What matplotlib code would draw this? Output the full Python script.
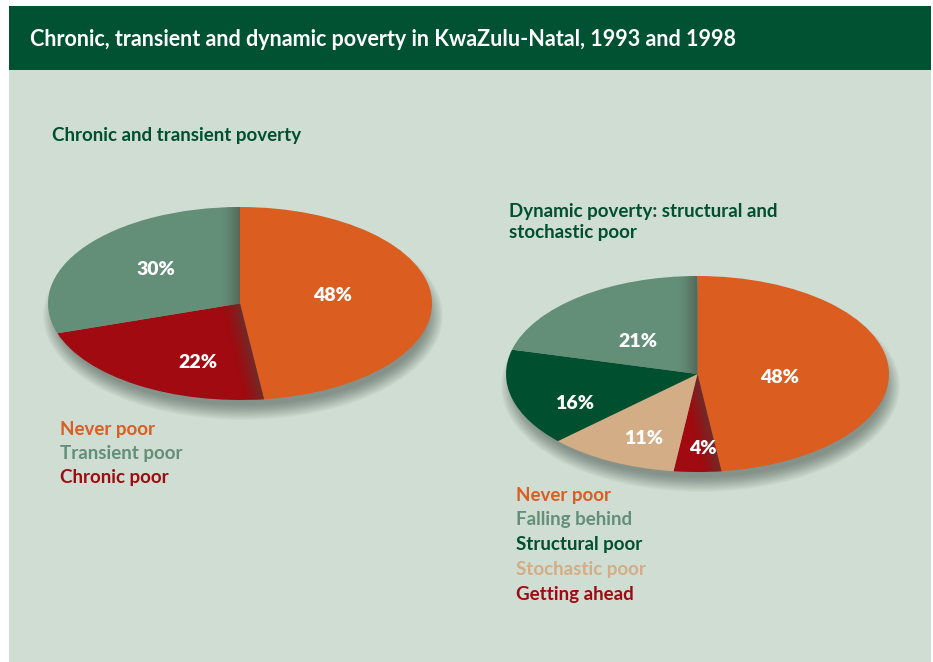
import numpy as np
import matplotlib.pyplot as plt
from matplotlib.patches import Rectangle, Ellipse

# data
title = "Chronic, transient and dynamic poverty in KwaZulu-Natal, 1993 and 1998"

left_title = "Chronic and transient poverty"
left_labels = ["Never poor", "Transient poor", "Chronic poor"]
left_values = [48, 30, 22]
left_order = [0, 2, 1]  # drawing order clockwise from the top

right_title = "Dynamic poverty: structural and\nstochastic poor"
right_labels = ["Never poor", "Falling behind", "Structural poor", "Stochastic poor", "Getting ahead"]
right_values = [48, 21, 16, 11, 4]
right_order = [0, 4, 3, 2, 1]

left_colors = ["#dc5d20", "#638e78", "#a00a10"]
right_colors = ["#dc5d20", "#638e78", "#00502f", "#d2ad85", "#a00a10"]

BG = "#d0ddd3"
DARK = "#00502f"
W, H = 933, 662

plt.rcParams['font.family'] = ['Lato', 'DejaVu Sans']

fig = plt.figure(figsize=(W / 100, H / 100), dpi=100)
fig.patch.set_facecolor("white")


def fx(px):
    return px / W


def fy(py):
    return 1 - py / H


# panel + header band
fig.patches.append(Rectangle((fx(9), 0), fx(922), fy(70), transform=fig.transFigure,
                             facecolor=BG, edgecolor="none", zorder=-5))
fig.patches.append(Rectangle((fx(9), fy(70)), fx(922), (70 - 6) / H, transform=fig.transFigure,
                             facecolor="#005232", edgecolor="none", zorder=-5))
fig.text(fx(30), fy(40), title, color="white", fontsize=15.5, fontweight="bold",
         va="center", ha="left")


def shade(ax, wedge, theta, pxw, pxh, width=20):
    # dark gradient along a wedge border, clipped to the neighbouring wedge
    xs = np.linspace(-1, 1, 300)
    ys = np.linspace(-1, 1, 300)
    X, Y = np.meshgrid(xs, ys)
    dx, dy = np.sin(np.radians(theta)) * pxw / 2, np.cos(np.radians(theta)) * pxh / 2
    n = np.hypot(dx, dy)
    d = np.abs(X * pxw / 2 * dy - Y * pxh / 2 * dx) / n
    a = np.clip(1 - d / width, 0, 1) ** 1.5 * 0.55
    img = np.zeros((300, 300, 4))
    img[..., 0] = 0.28
    img[..., 1] = 0.28
    img[..., 2] = 0.24
    img[..., 3] = a
    im = ax.imshow(img, extent=(-1, 1, -1, 1), origin="lower", aspect="auto", zorder=3,
                   interpolation="bilinear")
    im.set_clip_path(wedge)


def draw_pie(box, values, colors, order, label_pos):
    x0, y0, x1, y1 = box
    pxw, pxh = x1 - x0, y1 - y0
    ax = fig.add_axes([fx(x0), fy(y1), fx(pxw), pxh / H])
    vals = [values[i] for i in order]
    cols = [colors[i] for i in order]
    # soft drop shadow, mostly below the pie
    for k in range(20):
        g = 8 - k * 0.8
        ax.add_patch(Ellipse((3 / (pxw / 2), -12 / (pxh / 2)), 2 + 2 * g / (pxw / 2),
                             2 + 2 * g / (pxh / 2), facecolor="#1c2a22", edgecolor="none",
                             alpha=0.022, zorder=0, clip_on=False))
    wedges, _, autotexts = ax.pie(vals, colors=cols, startangle=90, counterclock=False,
                                  radius=1, autopct="%.0f%%",
                                  wedgeprops=dict(linewidth=0, zorder=2),
                                  textprops=dict(color="white", fontsize=14, fontweight="heavy"))
    for t, p in zip(autotexts, label_pos):
        t.set_position(p)
        t.set_zorder(5)
    ax.set_aspect("auto")
    ax.set_xlim(-1, 1)
    ax.set_ylim(-1, 1)
    ax.axis("off")
    # shading on the neighbours of the first (raised) wedge
    end = 360 * vals[0] / sum(vals)
    shade(ax, wedges[1], end, pxw, pxh)
    shade(ax, wedges[-1], 0, pxw, pxh)
    return ax


draw_pie((48, 207, 432, 400), left_values, left_colors, left_order,
         [(0.48, 0.08), (-0.22, -0.61), (-0.44, 0.35)])
draw_pie((506, 276, 889, 472), right_values, right_colors, right_order,
         [(0.43, -0.04), (0.03, -0.76), (-0.28, -0.66), (-0.64, -0.30), (-0.31, 0.33)])

fig.text(fx(52), fy(136), left_title, color=DARK, fontsize=13.5, fontweight="bold", va="center")
fig.text(fx(509), fy(222), right_title, color=DARK, fontsize=13.5, fontweight="bold", va="center",
         linespacing=1.25)

for i, lab in enumerate(left_labels):
    fig.text(fx(60), fy(429 + 24.5 * i), lab, color=left_colors[i], fontsize=13.5,
             fontweight="bold", va="center")
for i, lab in enumerate(right_labels):
    fig.text(fx(516), fy(495 + 24.8 * i), lab, color=right_colors[i], fontsize=13.5,
             fontweight="bold", va="center")

fig.savefig("out.png", dpi=100, facecolor=fig.get_facecolor())
